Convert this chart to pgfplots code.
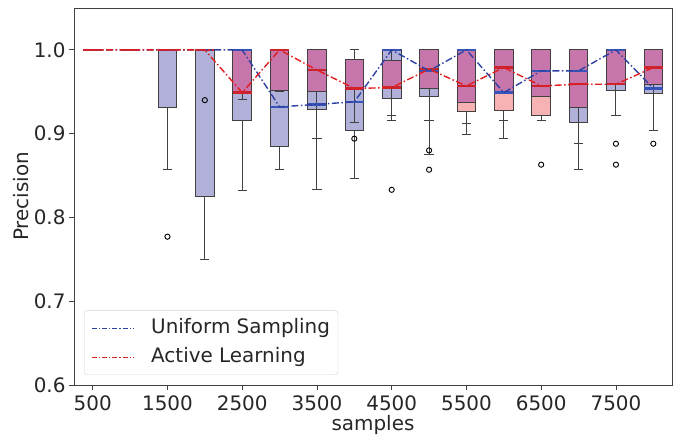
\documentclass[border=0pt]{standalone}
\usepackage{fontspec}
\setmainfont{DejaVu Sans}
\usepackage{pgfplots}
\pgfplotsset{compat=1.18}
\usepgfplotslibrary{statistics}
\definecolor{upurple}{RGB}{176,176,216}
\definecolor{apink}{RGB}{247,178,180}
\definecolor{omag}{RGB}{199,118,172}
\definecolor{umed}{RGB}{55,85,185}
\definecolor{amed}{RGB}{205,35,45}
\definecolor{bluedash}{RGB}{45,65,165}
\definecolor{reddash}{RGB}{225,30,30}
\definecolor{edge}{RGB}{65,65,65}
% box fill: #1 pos, #2 lw, #3 lq, #4 uq, #5 uw, #6 fill colour, #7 whisker style
\newcommand{\bxfill}[7]{%
\addplot[forget plot, edge, line width=0.9bp,
 boxplot prepared={draw direction=y, draw position=#1, lower whisker=#2, lower quartile=#3, median=#3,
   upper quartile=#4, upper whisker=#5, box extend=0.5, whisker extend=0.25},
 boxplot/every box/.style={draw=edge, fill=#6},
 boxplot/every median/.style={draw=none},
 boxplot/every whisker/.style={#7}] coordinates {};}
% median: #1 pos, #2 median, #3 colour
\newcommand{\bxmed}[3]{%
\addplot[forget plot,
 boxplot prepared={draw direction=y, draw position=#1, lower whisker=#2, lower quartile=#2, median=#2,
   upper quartile=#2, upper whisker=#2, box extend=0.5, whisker extend=0.25},
 boxplot/every box/.style={draw=none},
 boxplot/every whisker/.style={draw=none},
 boxplot/every median/.style={draw=#3, line width=2.4bp}] coordinates {};}
\begin{document}
\begin{tikzpicture}
\begin{axis}[
  scale only axis, width=598bp, height=377bp,
  xmin=-0.5, xmax=15.5, ymin=0.6, ymax=1.05,
  xtick={0,2,4,6,8,10,12,14},
  xticklabels={500,1500,2500,3500,4500,5500,6500,7500},
  ytick={0.6,0.7,0.8,0.9,1.0},
  scaled ticks=false,
  /pgf/number format/assume math mode=true,
  yticklabel style={/pgf/number format/.cd, fixed, fixed zerofill, precision=1},
  tick align=outside, tick pos=left, major tick length=5bp,
  tick style={edge, line width=0.8bp},
  axis line style={edge, line width=0.8bp},
  tick label style={font=\fontsize{20}{24}\selectfont, text=black!85},
  label style={font=\fontsize{20}{24}\selectfont, text=black!85},
  xticklabel style={yshift=-2bp},
  xlabel={samples}, ylabel={Precision},
  xlabel style={yshift=2bp},
  ylabel style={yshift=-2bp},
]
% index i -> 500*(i+1) samples
% layers per position: uniform box, active box, overlap, uniform median, active median
\bxmed{0}{1}{umed}\bxmed{0}{1}{amed}
\bxmed{1}{1}{umed}\bxmed{1}{1}{amed}
% 1500
\bxfill{2}{0.857}{0.931}{1}{1}{upurple}{draw=edge}
\bxmed{2}{1}{umed}\bxmed{2}{1}{amed}
% 2000
\bxfill{3}{0.750}{0.825}{1}{1}{upurple}{draw=edge}
\bxmed{3}{1}{umed}\bxmed{3}{1}{amed}
% 2500
\bxfill{4}{0.832}{0.916}{1}{1}{upurple}{draw=edge}
\bxfill{4}{0.941}{0.949}{1}{1}{apink}{draw=edge}
\bxfill{4}{0.949}{0.949}{1}{1}{omag}{draw=none}
\bxmed{4}{1}{umed}\bxmed{4}{0.949}{amed}
% 3000
\bxfill{5}{0.857}{0.885}{1}{1}{upurple}{draw=edge}
\bxfill{5}{0.950}{0.952}{1}{1}{apink}{draw=edge}
\bxfill{5}{0.952}{0.952}{1}{1}{omag}{draw=none}
\bxmed{5}{0.932}{umed}\bxmed{5}{1}{amed}
% 3500
\bxfill{6}{0.833}{0.929}{1}{1}{upurple}{draw=edge}
\bxfill{6}{0.894}{0.950}{1}{1}{apink}{draw=edge}
\bxfill{6}{0.950}{0.950}{1}{1}{omag}{draw=none}
\bxmed{6}{0.935}{umed}\bxmed{6}{0.976}{amed}
% 4000
\bxfill{7}{0.846}{0.904}{0.988}{1}{upurple}{draw=edge}
\bxfill{7}{0.913}{0.953}{0.988}{1}{apink}{draw=edge}
\bxfill{7}{0.953}{0.953}{0.988}{0.988}{omag}{draw=none}
\bxmed{7}{0.938}{umed}\bxmed{7}{0.954}{amed}
% 4500
\bxfill{8}{0.916}{0.942}{1}{1}{upurple}{draw=edge}
\bxfill{8}{0.922}{0.955}{0.987}{1}{apink}{draw=edge}
\bxfill{8}{0.955}{0.955}{0.987}{0.987}{omag}{draw=none}
\bxmed{8}{1}{umed}\bxmed{8}{0.955}{amed}
% 5000
\bxfill{9}{0.875}{0.944}{1}{1}{upurple}{draw=edge}
\bxfill{9}{0.916}{0.954}{1}{1}{apink}{draw=edge}
\bxfill{9}{0.954}{0.954}{1}{1}{omag}{draw=none}
\bxmed{9}{0.975}{umed}\bxmed{9}{0.977}{amed}
% 5500
\bxfill{10}{0.912}{0.937}{1}{1}{upurple}{draw=edge}
\bxfill{10}{0.899}{0.926}{1}{1}{apink}{draw=edge}
\bxfill{10}{0.937}{0.937}{1}{1}{omag}{draw=none}
\bxmed{10}{1}{umed}\bxmed{10}{0.957}{amed}
% 6000
\bxfill{11}{0.916}{0.948}{1}{1}{upurple}{draw=edge}
\bxfill{11}{0.894}{0.928}{1}{1}{apink}{draw=edge}
\bxfill{11}{0.948}{0.948}{1}{1}{omag}{draw=none}
\bxmed{11}{0.949}{umed}\bxmed{11}{0.979}{amed}
% 6500
\bxfill{12}{0.945}{0.945}{1}{1}{upurple}{draw=edge}
\bxfill{12}{0.916}{0.922}{1}{1}{apink}{draw=edge}
\bxfill{12}{0.945}{0.945}{1}{1}{omag}{draw=none}
\bxmed{12}{0.975}{umed}\bxmed{12}{0.957}{amed}
% 7000
\bxfill{13}{0.857}{0.913}{1}{1}{upurple}{draw=edge}
\bxfill{13}{0.888}{0.931}{1}{1}{apink}{draw=edge}
\bxfill{13}{0.931}{0.931}{1}{1}{omag}{draw=none}
\bxmed{13}{0.975}{umed}\bxmed{13}{0.959}{amed}
% 7500
\bxfill{14}{0.952}{0.952}{1}{1}{upurple}{draw=edge}
\bxfill{14}{0.922}{0.959}{1}{1}{apink}{draw=edge}
\bxfill{14}{0.959}{0.959}{1}{1}{omag}{draw=none}
\bxmed{14}{1}{umed}\bxmed{14}{0.959}{amed}
% 8000
\bxfill{15}{0.904}{0.948}{1}{1}{upurple}{draw=edge}
\bxfill{15}{0.948}{0.959}{1}{1}{apink}{draw=edge}
\bxfill{15}{0.959}{0.959}{1}{1}{omag}{draw=none}
\bxmed{15}{0.954}{umed}\bxmed{15}{0.979}{amed}
% outliers
\addplot[forget plot, only marks, mark=o, mark size=2.6bp, mark options={black, line width=0.9bp}] coordinates {
(2,0.777) (3,0.940) (7,0.894) (8,0.833) (9,0.880) (9,0.857)
(12,0.863) (14,0.888) (14,0.863) (15,0.888)};
% median lines
\addplot[forget plot, draw=bluedash, line width=1.4bp, dash pattern=on 7bp off 2.5bp on 1.5bp off 2.5bp] coordinates {
(0,1.0) (1,1.0) (2,1.0) (3,1.0) (4,1.0) (5,0.932) (6,0.935) (7,0.938)
(8,1.0) (9,0.975) (10,1.0) (11,0.949) (12,0.975) (13,0.975) (14,1.0) (15,0.954)};
\addplot[forget plot, draw=reddash, line width=1.4bp, dash pattern=on 7bp off 2.5bp on 1.5bp off 2.5bp] coordinates {
(0,1.0) (1,1.0) (2,1.0) (3,1.0) (4,0.949) (5,1.0) (6,0.976) (7,0.954)
(8,0.955) (9,0.977) (10,0.957) (11,0.979) (12,0.957) (13,0.959) (14,0.959) (15,0.979)};
\end{axis}
% legend
\node[anchor=south west, draw=black!18, rounded corners=3bp, fill=white, fill opacity=0.85,
  text opacity=1, inner xsep=8bp, inner ysep=8bp, align=left, text=black!85,
  font=\fontsize{20}{24}\selectfont] (leg)
  at ([xshift=10bp, yshift=10bp]current axis.south west)
  {\hspace{59bp}Uniform Sampling\\[5bp]\hspace{59bp}Active Learning};
\draw[draw=bluedash, line width=1bp, dash pattern=on 5bp off 2bp on 1.2bp off 2bp]
  ([xshift=8bp, yshift=-18bp]leg.north west) -- ++(42bp,0);
\draw[draw=reddash, line width=1bp, dash pattern=on 5bp off 2bp on 1.2bp off 2bp]
  ([xshift=8bp, yshift=-47bp]leg.north west) -- ++(42bp,0);
\pgfresetboundingbox
\path ([xshift=-74bp,yshift=-51bp]current axis.south west) rectangle ([xshift=1bp,yshift=8bp]current axis.north east);
\end{tikzpicture}
\end{document}
